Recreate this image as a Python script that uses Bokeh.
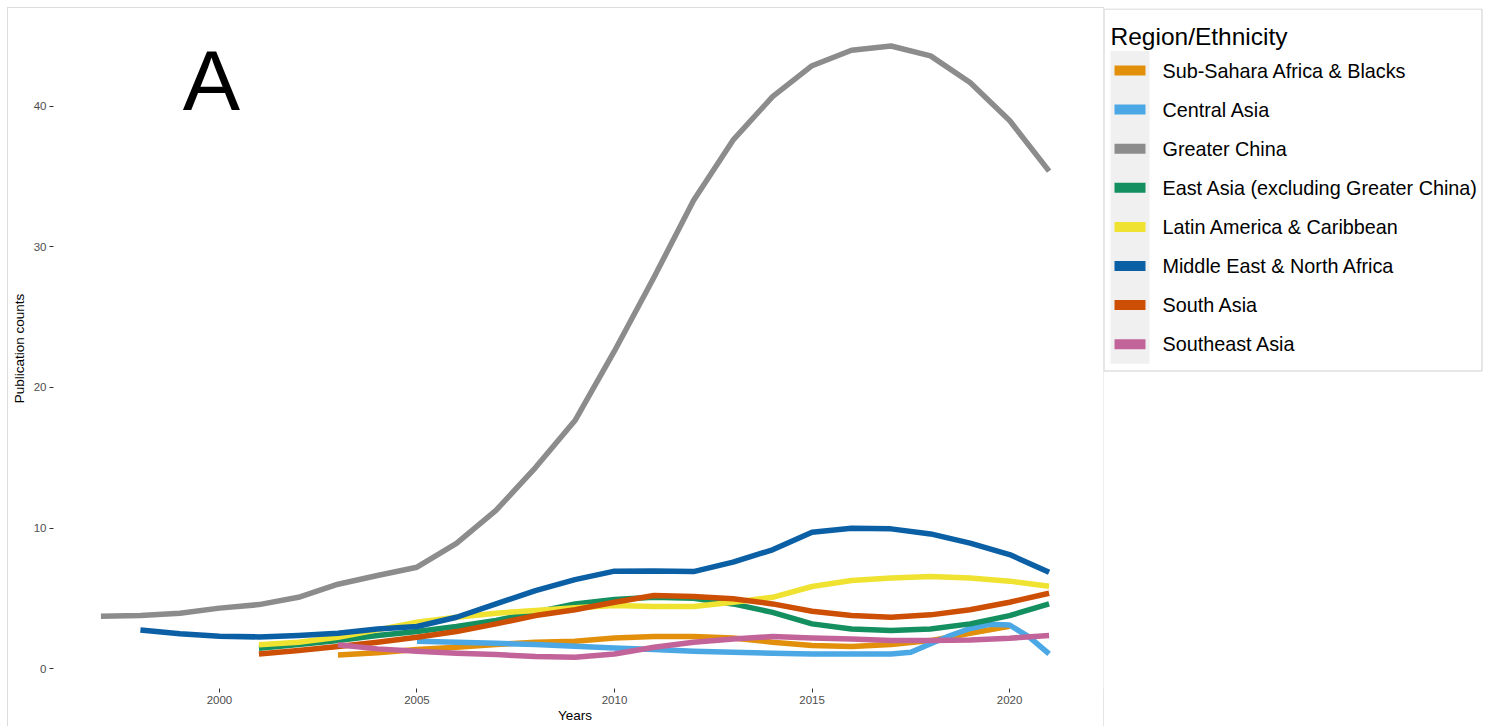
from bokeh.plotting import figure
from bokeh.models import Range1d, FixedTicker, ColumnDataSource
from bokeh.layouts import row
from bokeh.core.properties import value
from bokeh.embed import file_html
from bokeh.resources import INLINE

FONT = "Liberation Sans"

# ---------------- data ----------------
regions = [
    "Sub-Sahara Africa & Blacks",
    "Central Asia",
    "Greater China",
    "East Asia (excluding Greater China)",
    "Latin America & Caribbean",
    "Middle East & North Africa",
    "South Asia",
    "Southeast Asia",
]
colors = ["#E2900C", "#4BA8E5", "#8C8C8C", "#148F60", "#F0E231", "#0A5FA5", "#CD4F05", "#C2649A"]

ssa_years = list(range(2003, 2021))
ssa_vals = [0.97, 1.12, 1.35, 1.52, 1.71, 1.87, 1.95, 2.18, 2.28, 2.28, 2.18, 1.87, 1.64, 1.57, 1.71, 1.99, 2.51, 3.0]

ca_years = [2005, 2006, 2007, 2008, 2009, 2010, 2011, 2012, 2013, 2014, 2015, 2016, 2017,
            2017.5, 2018, 2018.5, 2019, 2019.5, 2020, 2020.5, 2021]
ca_vals = [1.95, 1.87, 1.80, 1.71, 1.59, 1.47, 1.35, 1.23, 1.16, 1.09, 1.04, 1.04, 1.04,
           1.16, 1.76, 2.35, 2.85, 3.15, 3.1, 2.23, 1.04]

gc_years = list(range(1997, 2022))
gc_vals = [3.72, 3.77, 3.94, 4.3, 4.55, 5.07, 6.0, 6.62, 7.21, 8.9, 11.25, 14.3, 17.65, 22.6,
           27.85, 33.3, 37.6, 40.7, 42.9, 44.0, 44.3, 43.6, 41.7, 39.0, 35.4]

ea_years = list(range(2001, 2022))
ea_vals = [1.45, 1.71, 1.99, 2.35, 2.63, 2.99, 3.42, 4.01, 4.6, 4.91, 5.07, 5.0, 4.6, 4.0,
           3.18, 2.82, 2.70, 2.82, 3.18, 3.77, 4.6]

la_years = list(range(2001, 2022))
la_vals = [1.69, 1.87, 2.23, 2.75, 3.3, 3.65, 3.94, 4.13, 4.32, 4.48, 4.41, 4.41, 4.72, 5.07,
           5.84, 6.26, 6.45, 6.55, 6.45, 6.22, 5.86]

me_years = list(range(1998, 2022))
me_vals = [2.75, 2.47, 2.30, 2.25, 2.35, 2.51, 2.82, 2.99, 3.65, 4.6, 5.55, 6.33, 6.93, 6.95,
           6.9, 7.57, 8.45, 9.7, 9.99, 9.94, 9.58, 8.92, 8.11, 6.86]

sa_years = list(range(2001, 2022))
sa_vals = [1.04, 1.28, 1.57, 1.87, 2.23, 2.63, 3.18, 3.77, 4.18, 4.72, 5.2, 5.12, 4.96, 4.6,
           4.08, 3.77, 3.65, 3.82, 4.18, 4.72, 5.36]

sea_years = list(range(2003, 2022))
sea_vals = [1.69, 1.4, 1.23, 1.09, 1.0, 0.85, 0.81, 1.04, 1.52, 1.87, 2.11, 2.28, 2.18, 2.11,
            1.99, 1.99, 2.04, 2.16, 2.35]

series_years = [ssa_years, ca_years, gc_years, ea_years, la_years, me_years, sa_years, sea_years]
series_vals = [ssa_vals, ca_vals, gc_vals, ea_vals, la_vals, me_vals, sa_vals, sea_vals]

x_ticks = [2000, 2005, 2010, 2015, 2020]
y_ticks = [0, 10, 20, 30, 40]
panel_label = "A"
legend_title = "Region/Ethnicity"

H = 718
FRAME_BOTTOM = 680  # px from top of the figure where the plotting frame ends

# ---------------- main chart ----------------
p = figure(width=1095, height=H, output_backend="svg", toolbar_location=None,
           x_range=Range1d(1995.8, 2022.2), y_range=Range1d(-1.42, 46.97),
           min_border_left=44, min_border_right=7, min_border_top=0,
           min_border_bottom=H - FRAME_BOTTOM)
p.outline_line_color = None
p.xgrid.visible = False
p.ygrid.visible = False
p.background_fill_color = "white"
p.border_fill_color = "white"
p.styles = {"outline": "1px solid #DCDCDC"}

for yrs, vals, col in zip(series_years, series_vals, colors):
    src = ColumnDataSource(dict(x=yrs, y=vals))
    p.line("x", "y", source=src, line_color=col, line_width=5.5, line_join="round", line_cap="butt")

p.text(x=[1999.8], y=[41.85], text=[panel_label], text_font=value(FONT), text_font_size="86px",
       text_color="black", text_align="center", text_baseline="alphabetic")

for ax in (p.xaxis, p.yaxis):
    ax.axis_line_color = None
    ax.major_tick_line_color = "#333333"
    ax.major_tick_in = 0
    ax.major_tick_out = 4
    ax.minor_tick_line_color = None
    ax.major_label_text_font = FONT
    ax.major_label_text_font_size = "11.5px"
    ax.major_label_text_color = "#4D4D4D"
    ax.axis_label_text_font = FONT
    ax.axis_label_text_font_size = "13.5px"
    ax.axis_label_text_font_style = "normal"
    ax.axis_label_text_color = "black"

p.xaxis.ticker = FixedTicker(ticks=x_ticks)
p.yaxis.ticker = FixedTicker(ticks=y_ticks)
p.xaxis.axis_label = "Years"
p.yaxis.axis_label = "Publication counts"
p.xaxis.major_label_standoff = 3
p.xaxis.axis_label_standoff = 1
p.yaxis.major_label_standoff = 3
p.yaxis.axis_label_standoff = 4

# ---------------- legend panel ----------------
# (its frame is aligned with the main frame by the row layout; y runs downward in px)
LW = 380
lg = figure(width=LW, height=H, output_backend="svg", toolbar_location=None,
            x_range=Range1d(0, LW), y_range=Range1d(FRAME_BOTTOM, 0),
            x_axis_type=None, y_axis_type=None,
            min_border_left=0, min_border_right=0, min_border_top=0,
            min_border_bottom=H - FRAME_BOTTOM)
lg.title.visible = False
lg.outline_line_color = None
lg.background_fill_color = "white"
lg.border_fill_color = "white"

n = len(regions)
step = 39.1
centers = [62 + i * step for i in range(n)]
# legend box border
lg.quad(left=[0.5], right=[LW - 1.5], top=[0.5], bottom=[362.5],
        fill_color="white", line_color="#CFCFCF", line_width=1)
# key column background
lg.quad(left=[7], right=[46], top=[centers[0] - step / 2], bottom=[centers[-1] + step / 2],
        fill_color="#F0F0F0", line_color=None)
lg.segment(x0=[11] * n, x1=[42] * n, y0=centers, y1=centers, line_color=colors,
           line_width=10, line_cap="butt")
lg.text(x=[59] * n, y=centers, text=regions, text_font=value(FONT), text_font_size="19.8px",
        text_color="black", text_align="left", text_baseline="middle")
lg.text(x=[7], y=[28], text=[legend_title], text_font=value(FONT), text_font_size="24.5px",
        text_color="black", text_align="left", text_baseline="alphabetic")

layout = row(p, lg)
layout.margin = (8, 0, 0, 8)
open("out.html", "w").write(file_html(layout, INLINE))
